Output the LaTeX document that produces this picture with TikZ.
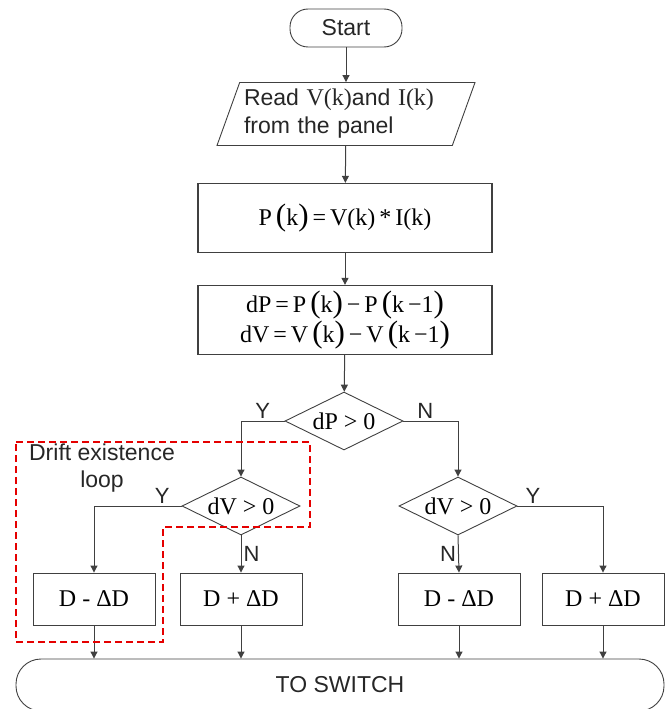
\documentclass[tikz,border=0pt]{standalone}
\usepackage{fontspec}
\setmainfont{Liberation Sans}
\newfontfamily\mth{Liberation Serif}
\usetikzlibrary{arrows.meta,shapes.geometric}
\providecommand{\bl}{{\fontsize{31}{31}\selectfont(}}
\providecommand{\br}{{\fontsize{31}{31}\selectfont)}}
\providecommand{\fm}[1]{{\mth\fontsize{24}{30}\selectfont #1}}
\tikzset{
  term/.style ={draw=black!75,line width=.9pt,rounded corners=18pt,text=black!85,
                minimum width=112pt,minimum height=38pt,font=\fontsize{23}{28}\selectfont},
  iobox/.style={draw=black!75,line width=.9pt,trapezium,trapezium left angle=67,
                trapezium right angle=113,trapezium stretches body,text=black!85,
                minimum width=258pt,minimum height=63pt,inner sep=2pt,
                text width=204pt,align=left,font=\fontsize{23}{28}\selectfont},
  pbox/.style ={draw=black!75,line width=1.3pt,minimum width=294pt,minimum height=69pt,
                align=center,inner sep=2pt,font=\fontsize{24}{30}\selectfont},
  dbox/.style ={draw=black!75,line width=.9pt,diamond,aspect=2,inner sep=0pt,
                minimum width=118pt,minimum height=58pt},
  obox/.style ={draw=black!75,line width=.9pt,minimum width=122pt,minimum height=52pt},
  arr/.style  ={-{Triangle[length=7pt,width=7pt]},line width=1pt,draw=black!75},
  yn/.style   ={font=\fontsize{22}{22}\selectfont,text=black!85,inner sep=2pt},
  drift/.style={draw=red!90!black,dash pattern=on 7pt off 4pt,line width=1.2pt},
}
\begin{document}
\begin{tikzpicture}[x=1pt,y=1pt]
  \useasboundingbox (0,0) rectangle (665,-709);
  \clip (0,0) rectangle (665,-709);

  % ---------- main column ----------
  \node[term] (start) at (346,-28) {Start};
  \node[iobox] (read) at (346,-114)
    {Read \fm{V(k)}and \fm{I(k)}\\from the panel};
  \node[pbox] (pk) at (345,-218) {\fm{P\,\bl k\br\,=\,V(k)\,*\,I(k)}};
  \node[pbox] (dpv) at (345,-320)
    {\fm{dP\,=\,P\,\bl k\br\,−\,P\,\bl k\,−1\br}\\
     \fm{dV\,=\,V\,\bl k\br\,−\,V\,\bl k\,−1\br}};

  % ---------- decisions ----------
  \node[dbox] (dec1) at (344,-421) {\fm{dP > 0}};
  \node[dbox] (dec2) at (241,-506) {\fm{dV > 0}};
  \node[dbox] (dec3) at (458,-506) {\fm{dV > 0}};

  % ---------- duty updates ----------
  \node[obox] (b1) at (94,-599)  {\fm{D\ -\ ΔD}};
  \node[obox] (b2) at (241,-599) {\fm{D + ΔD}};
  \node[obox] (b3) at (459,-599) {\fm{D\ -\ ΔD}};
  \node[obox] (b4) at (603,-599) {\fm{D + ΔD}};

  \node[term,rounded corners=25pt,minimum width=648pt,minimum height=52pt] (sw)
    at (340,-685) {TO SWITCH};

  % ---------- connectors ----------
  \draw[arr] (start) -- (read);
  \draw[arr] (read) -- (pk);
  \draw[arr] (pk) -- (dpv);
  \draw[arr] (dpv) -- (dec1);
  \draw[arr] (dec1.west) -| node[yn,above,pos=.25] {Y} (dec2.north);
  \draw[arr] (dec1.east) -| node[yn,above,pos=.2] {N} (dec3.north);
  \draw[arr] (dec2.west) -| node[yn,above,pos=.11] {Y} (b1.north);
  \draw[arr] (dec2.south) -- node[yn,right] {N} (b2.north);
  \draw[arr] (dec3.east) -| node[yn,above,pos=.09] {Y} (b4.north);
  \draw[arr] (dec3.south) -- node[yn,left] {N} (b3.north);
  \foreach \b in {b1,b2,b3,b4}
    \draw[arr] (\b.south) -- (\b.south |- sw.north);

  % ---------- drift existence loop ----------
  \draw[drift] (16,-442) -- (310,-442) -- (310,-527) -- (163,-527)
    -- (163,-642) -- (16,-642) -- cycle;
  \node[yn,align=center,font=\fontsize{23}{27}\selectfont] (dlbl) at (102,-468)
    {Drift existence\\loop};
\end{tikzpicture}
\end{document}
